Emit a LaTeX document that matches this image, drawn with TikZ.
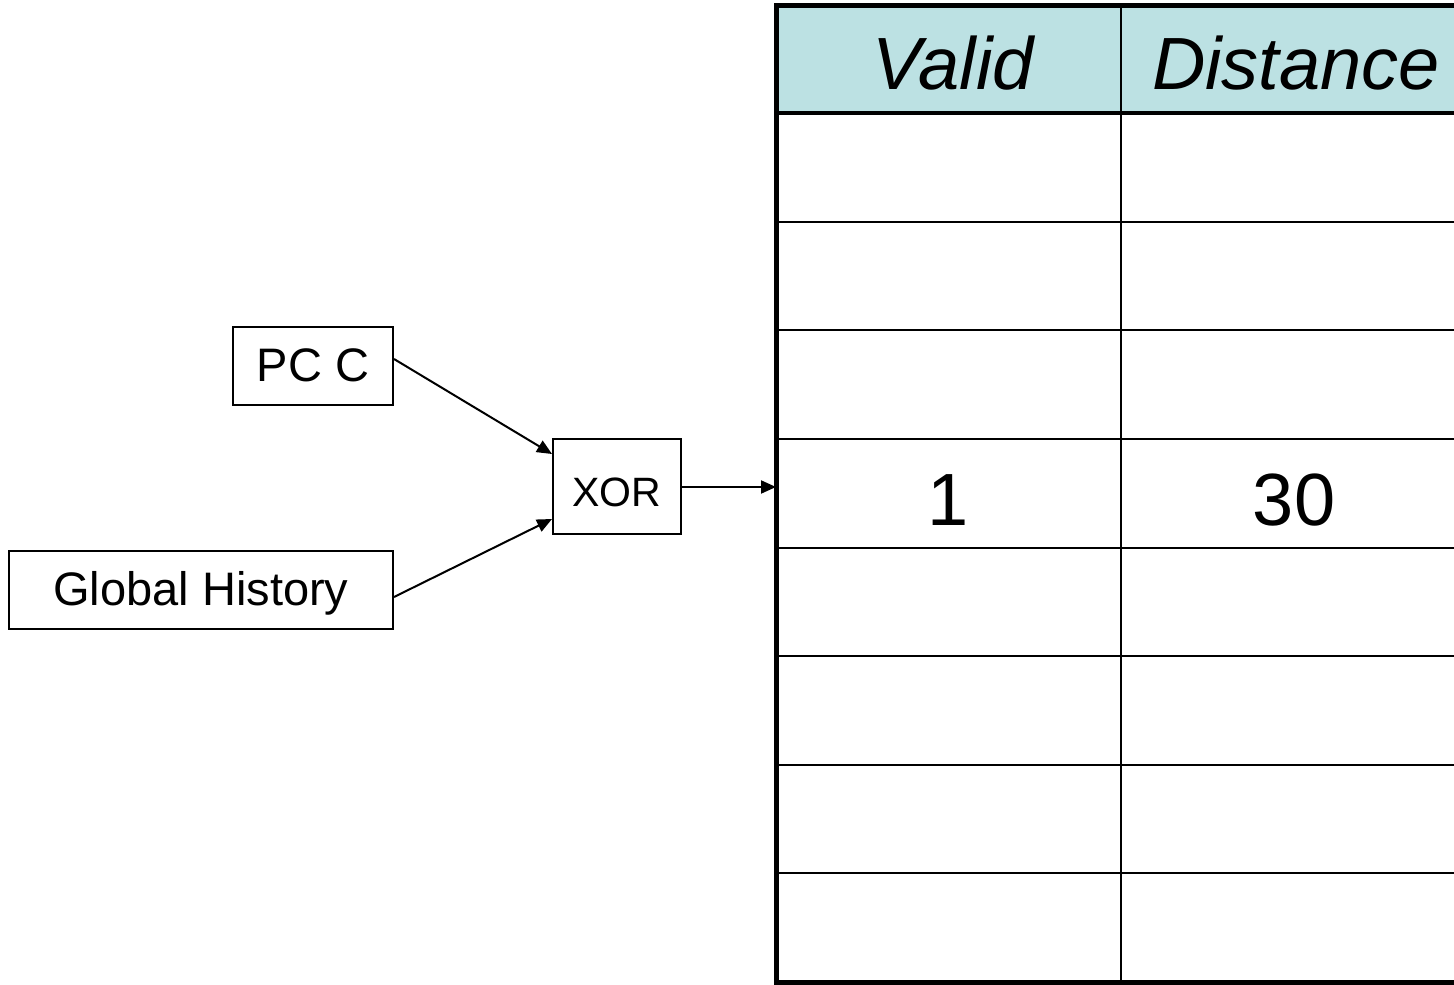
\documentclass[tikz,border=0pt]{standalone}
\usepackage{fontspec}
\setmainfont{Liberation Sans}
\usetikzlibrary{arrows.meta}
\definecolor{headfill}{HTML}{BCE1E3}
\tikzset{
  box/.style={draw, line width=1pt, inner sep=0pt, text height=15.6pt, text depth=0pt,
    font=\fontsize{23.5}{28}\selectfont},
  link/.style={line width=1pt, -{Triangle[length=7.5pt,width=6.5pt]}},
  thin rule/.style={line width=1pt},
  thick rule/.style={line width=2.5pt},
  head/.style={font=\fontsize{37}{44}\selectfont\itshape, inner sep=0pt},
  cell/.style={font=\fontsize{37}{44}\selectfont, inner sep=0pt}
}
\begin{document}
\begin{tikzpicture}[x=0.5pt,y=-0.5pt]
\useasboundingbox (0,0) rectangle (1454,984);
\clip (0,0) rectangle (1454,984);

% input boxes and the hash
\node[box, minimum width=80pt, minimum height=39pt] (pc) at (313,366) {PC C};
\node[box, minimum width=192pt, minimum height=39pt] (gh) at (201,590) {Global History};
\node[box, minimum width=64pt, minimum height=47.5pt, text height=19.9pt, text depth=0pt,
  font=\fontsize{20.5}{24}\selectfont] (xor) at (617,486.5) {XOR};

% table frame
\coordinate (tl) at (776,6);
\fill[headfill] (776,6) rectangle (1471,113);
\foreach \k in {1,...,7} {
  \draw[thin rule] (776,{113+\k*108.625}) -- (1471,{113+\k*108.625});
}
\draw[thin rule] (1121,6) -- (1121,982);
\draw[line width=2pt] (776,113) -- (1471,113);
\draw[thick rule] (1471,6) -- (tl) -- (776,982) -- (1471,982);
\node[inner sep=0pt, minimum width=0pt] (tbl) at (776,487) {};

% table contents
\node[head] (valid) at (953,63) {Valid};
\node[head] (dist) at (1296,63) {Distance};
\node[cell] (v1) at (948,500) {1};
\node[cell] (d1) at (1294,500) {30};

% connectors
\draw[link] (pc.east |- 0,359) -- (xor.north west |- 0,454);
\draw[link] (gh.east |- 0,597) -- (xor.west |- 0,519);
\draw[link] (xor.east |- 0,487) -- (tbl.center);
\end{tikzpicture}
\end{document}
